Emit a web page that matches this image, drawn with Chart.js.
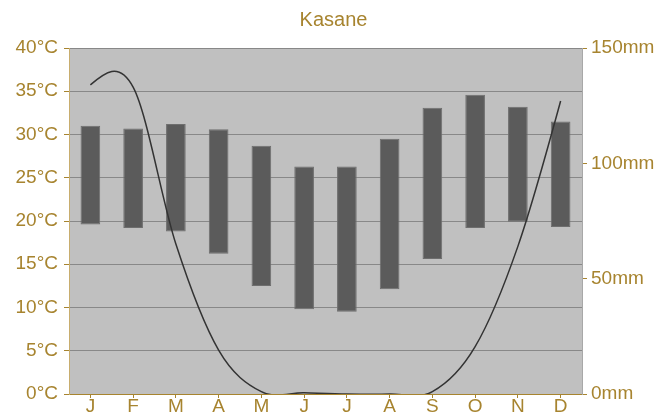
<!DOCTYPE html>
<html>
<head>
<meta charset="utf-8">
<script src="https://cdn.jsdelivr.net/npm/chart.js@4"></script>
<style>
  body { margin: 0; background: #fff; }
  canvas { display: block; }
</style>
</head>
<body>
<canvas id="climateChart" width="667" height="415"></canvas>
<script>
const months = ['J', 'F', 'M', 'A', 'M', 'J', 'J', 'A', 'S', 'O', 'N', 'D'];
const tempMin = [19.6, 19.2, 18.8, 16.2, 12.5, 9.8, 9.5, 12.1, 15.6, 19.2, 19.9, 19.3];
const tempMax = [31.0, 30.7, 31.2, 30.6, 28.7, 26.3, 26.3, 29.5, 33.1, 34.6, 33.2, 31.5];
const rainfall = [134, 133, 65, 19, 1, 0.5, 0, 0, 1, 20.5, 64, 127];

const gold = '#a7842f';

const plotBg = {
    id: 'plotBg',
    beforeDraw(chart) {
        const {ctx, chartArea: a} = chart;
        ctx.save();
        ctx.fillStyle = '#c0c0c0';
        ctx.fillRect(a.left, a.top, a.right - a.left, a.bottom - a.top);
        ctx.restore();
    }
};

// smoother curve: uniform catmull-rom control points on the points chart.js placed
const smoothLine = {
    id: 'smoothLine',
    beforeDatasetDraw(chart, args) {
        if (args.index !== 0) return;
        const meta = args.meta;
        meta.dataset.updateControlPoints(chart.chartArea, 'x');
        const p = meta.data;
        const n = p.length;
        const m = p.map((pt, i) => {
            if (i === 0 || i === n - 1) return null;
            return { x: (p[i + 1].x - p[i - 1].x) / 2, y: (p[i + 1].y - p[i - 1].y) / 2 };
        });
        m[0] = { x: (3 * (p[1].x - p[0].x) - m[1].x) / 2, y: (3 * (p[1].y - p[0].y) - m[1].y) / 2 };
        m[n - 1] = { x: (3 * (p[n - 1].x - p[n - 2].x) - m[n - 2].x) / 2, y: (3 * (p[n - 1].y - p[n - 2].y) - m[n - 2].y) / 2 };
        p.forEach((pt, i) => {
            pt.cp1x = pt.x - m[i].x / 3;
            pt.cp1y = pt.y - m[i].y / 3;
            pt.cp2x = pt.x + m[i].x / 3;
            pt.cp2y = pt.y + m[i].y / 3;
        });
    }
};

Chart.defaults.font.family = '"Liberation Sans", Arial, sans-serif';
Chart.defaults.font.size = 19;
Chart.defaults.color = gold;

new Chart(document.getElementById('climateChart'), {
    type: 'bar',
    data: {
        labels: months,
        datasets: [{
            type: 'line',
            data: rainfall,
            yAxisID: 'y2',
            borderColor: '#333333',
            borderWidth: 1.5,
            pointRadius: 0,
            tension: 0.4,
            fill: false,
            clip: 0
        }, {
            data: tempMin.map((v, i) => [v, tempMax[i]]),
            yAxisID: 'y',
            backgroundColor: '#5b5b5b',
            borderColor: '#6e6e6e',
            borderWidth: 1,
            borderSkipped: false,
            barPercentage: 0.46,
            categoryPercentage: 1
        }]
    },
    options: {
        responsive: false,
        animation: false,
        plugins: {
            legend: { display: false },
            tooltip: { enabled: false },
            title: {
                display: true,
                text: 'Kasane',
                color: gold,
                font: { size: 20, weight: 'normal' },
                padding: { top: 8, bottom: 16 }
            }
        },
        layout: { padding: 0 },
        scales: {
            x: {
                grid: { display: true, drawOnChartArea: false, offset: false, tickLength: 4, tickColor: gold },
                border: { color: gold },
                ticks: { padding: -3, maxRotation: 0 },
                afterFit(s) { s.height = 21; }
            },
            y: {
                position: 'left',
                min: 0,
                max: 40,
                ticks: { stepSize: 5, padding: 6, callback: v => v + '°C' },
                grid: { color: '#888888', tickColor: gold, tickLength: 5 },
                border: { color: '#c8ad6e' },
                afterFit(s) { s.width = 69; }
            },
            y2: {
                position: 'right',
                min: 0,
                max: 150,
                ticks: { stepSize: 50, padding: 4, callback: v => v + 'mm' },
                grid: { drawOnChartArea: false, tickColor: gold, tickLength: 5 },
                border: { color: '#a8a8a8' },
                afterFit(s) { s.width = 85; }
            }
        }
    },
    plugins: [plotBg, smoothLine]
});
</script>
</body>
</html>
